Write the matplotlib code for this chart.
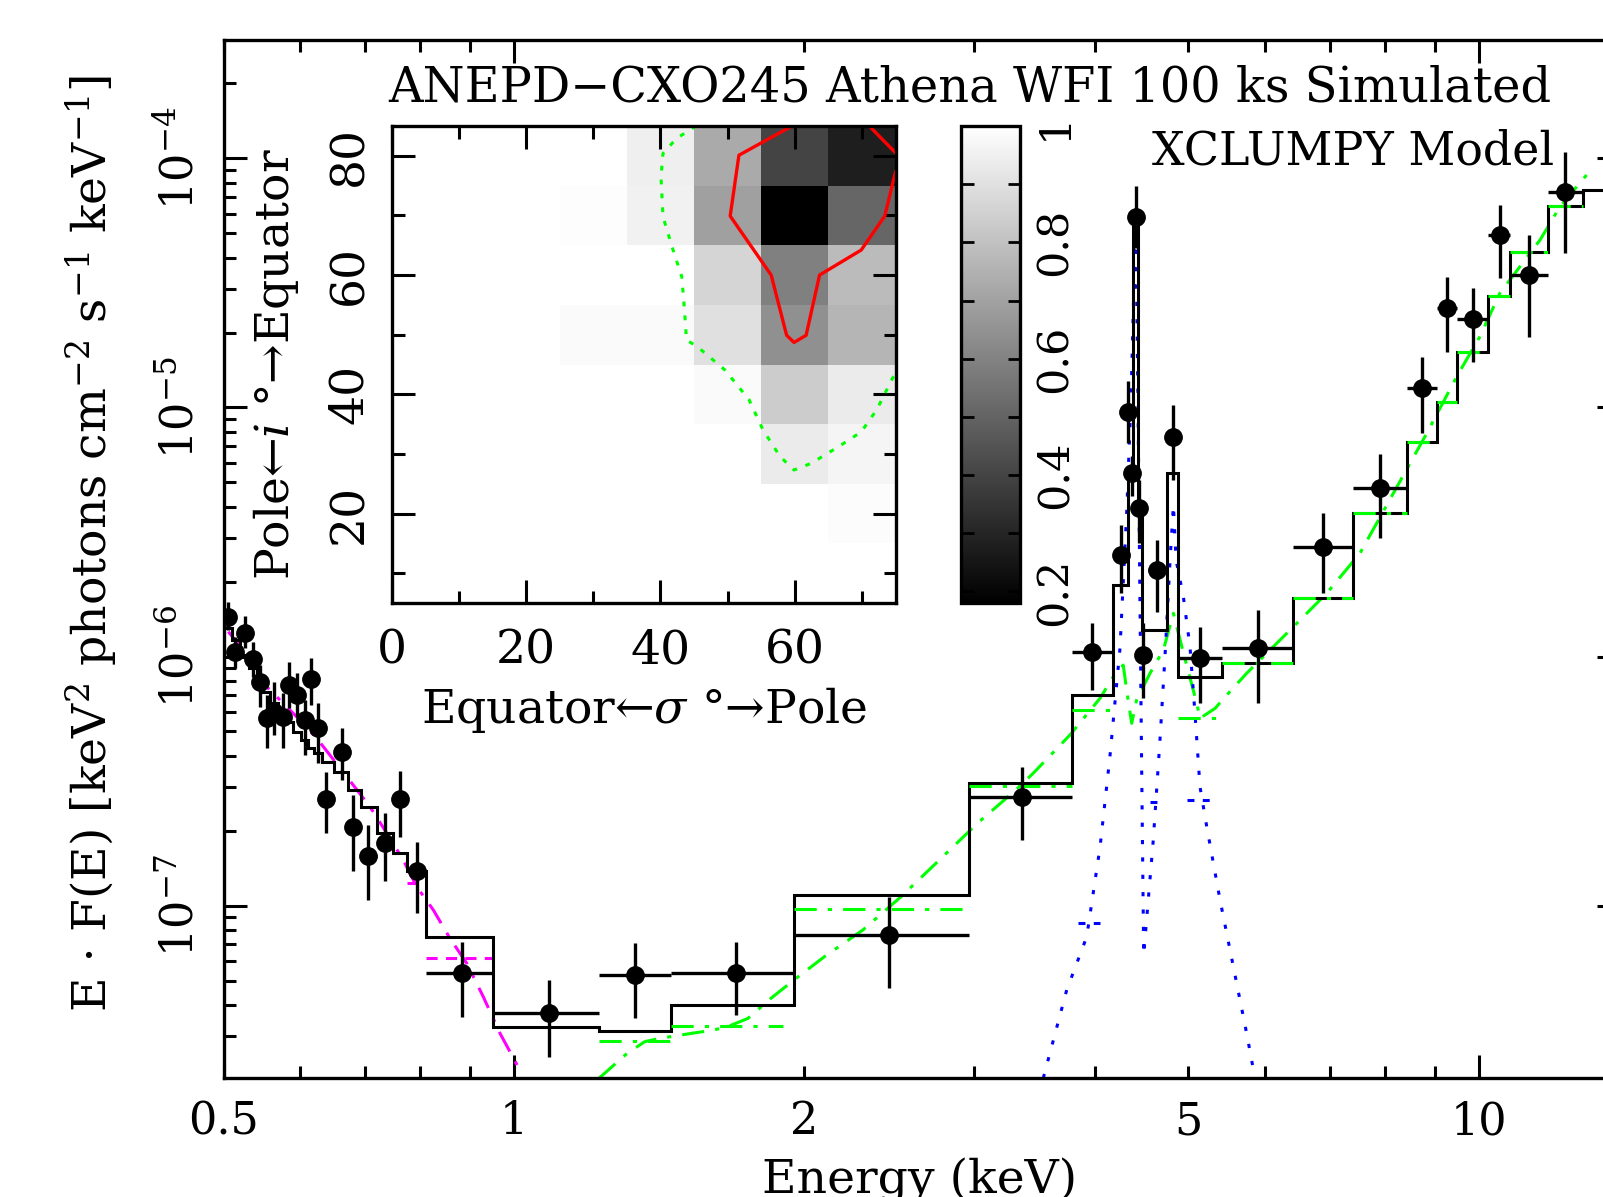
import numpy as np
import matplotlib
matplotlib.use("Agg")
import matplotlib.pyplot as plt
from matplotlib.ticker import FixedLocator, FuncFormatter, NullFormatter, LogLocator, MultipleLocator

# ---------------- spectrum data (keV, keV^2 photons cm^-2 s^-1 keV^-1) ----------------
energy = np.array([0.5058, 0.5140, 0.5264, 0.5369, 0.5455, 0.5543, 0.5641, 0.5758, 0.5850, 0.5962,
                   0.6072, 0.6155, 0.6267, 0.6384, 0.6630, 0.6815, 0.7066, 0.7354, 0.7618, 0.7929,
                   0.8828, 1.087, 1.335, 1.700, 2.449, 3.357, 3.974, 4.253, 4.323, 4.366,
                   4.408, 4.443, 4.488, 4.641, 4.823, 5.139, 5.906, 6.897, 7.897, 8.724,
                   9.260, 9.851, 10.51, 11.27, 12.28])
e_lo = np.array([0.500, 0.5098, 0.5202, 0.5315, 0.5410, 0.5497, 0.5590, 0.5698, 0.5804, 0.5906,
                 0.6014, 0.6115, 0.6210, 0.6327, 0.6505, 0.6723, 0.6938, 0.7206, 0.7484, 0.7747,
                 0.810, 0.952, 1.224, 1.456, 1.950, 2.962, 3.790, 4.178, 4.297, 4.346,
                 4.387, 4.429, 4.464, 4.542, 4.747, 4.881, 5.413, 6.409, 7.408, 8.418,
                 9.042, 9.481, 10.22, 10.77, 11.80])
e_hi = np.array([0.5098, 0.5202, 0.5315, 0.5410, 0.5497, 0.5590, 0.5698, 0.5804, 0.5906, 0.6014,
                 0.6115, 0.6210, 0.6327, 0.6505, 0.6723, 0.6938, 0.7206, 0.7484, 0.7747, 0.810,
                 0.952, 1.224, 1.456, 1.950, 2.962, 3.790, 4.178, 4.331, 4.348, 4.387,
                 4.429, 4.464, 4.517, 4.747, 4.881, 5.413, 6.409, 7.408, 8.418, 9.042,
                 9.481, 10.22, 10.77, 11.80, 12.83])
flux = np.array([1.445e-6, 1.045e-6, 1.246e-6, 9.74e-7, 7.92e-7, 5.65e-7, 6.00e-7, 5.73e-7, 7.68e-7, 7.00e-7,
                 5.56e-7, 8.10e-7, 5.15e-7, 2.69e-7, 4.15e-7, 2.07e-7, 1.58e-7, 1.78e-7, 2.69e-7, 1.37e-7,
                 5.34e-8, 3.71e-8, 5.26e-8, 5.37e-8, 7.61e-8, 2.72e-7, 1.045e-6, 2.556e-6, 9.62e-6, 5.44e-6,
                 5.82e-5, 3.94e-6, 1.014e-6, 2.225e-6, 7.63e-6, 9.83e-7, 1.079e-6, 2.761e-6, 4.74e-6, 1.194e-5,
                 2.503e-5, 2.260e-5, 4.93e-5, 3.404e-5, 7.36e-5])
f_lo = np.array([1.278e-6, 8.97e-7, 1.079e-6, 8.29e-7, 6.29e-7, 4.28e-7, 4.84e-7, 4.28e-7, 6.19e-7, 5.73e-7,
                 4.02e-7, 6.39e-7, 3.75e-7, 1.95e-7, 3.19e-7, 1.37e-7, 1.05e-7, 1.25e-7, 1.89e-7, 9.30e-8,
                 3.58e-8, 2.47e-8, 3.52e-8, 3.63e-8, 4.65e-8, 1.83e-7, 7.34e-7, 1.794e-6, 7.22e-6, 4.41e-6,
                 4.37e-5, 2.856e-6, 6.80e-7, 1.513e-6, 5.11e-6, 6.49e-7, 6.49e-7, 1.794e-6, 2.983e-6, 7.88e-6,
                 1.675e-5, 1.527e-5, 3.303e-5, 1.924e-5, 4.16e-5])
f_hi = np.array([1.660e-6, 1.201e-6, 1.454e-6, 1.147e-6, 9.24e-7, 7.00e-7, 7.92e-7, 7.11e-7, 9.53e-7, 8.56e-7,
                 6.69e-7, 9.83e-7, 6.49e-7, 3.45e-7, 5.15e-7, 2.78e-7, 2.11e-7, 2.35e-7, 3.48e-7, 1.80e-7,
                 7.16e-8, 5.02e-8, 7.05e-8, 7.16e-8, 1.085e-7, 3.61e-7, 1.359e-6, 3.375e-6, 1.272e-5, 6.38e-6,
                 7.72e-5, 5.11e-6, 1.359e-6, 2.937e-6, 1.023e-5, 1.317e-6, 1.537e-6, 3.759e-6, 6.51e-6, 1.600e-5,
                 3.352e-5, 3.011e-5, 6.51e-5, 4.93e-5, 1.065e-4])

# total model (folded, stepped)
model_edges = [0.500, 0.5098, 0.5202, 0.5315, 0.5410, 0.5497, 0.5590, 0.5698, 0.5804, 0.5906,
               0.6014, 0.6115, 0.6210, 0.6327, 0.6505, 0.6723, 0.6938, 0.7206, 0.7484, 0.7747,
               0.810, 0.952, 1.224, 1.456, 1.950, 2.962, 3.790, 4.178, 4.331, 4.383,
               4.436, 4.472, 4.747, 4.881, 5.413, 6.409, 7.408, 8.418, 9.042, 9.481,
               10.22, 10.77, 11.80, 12.83, 14.0]
model_flux = [1.302e-6, 1.165e-6, 1.014e-6, 8.99e-7, 8.04e-7, 7.20e-7, 6.51e-7, 5.93e-7, 5.46e-7, 4.97e-7,
              4.62e-7, 4.29e-7, 4.10e-7, 3.77e-7, 3.44e-7, 2.91e-7, 2.49e-7, 1.95e-7, 1.62e-7, 1.37e-7,
              7.49e-8, 3.26e-8, 3.13e-8, 3.99e-8, 1.102e-7, 3.11e-7, 7.00e-7, 1.937e-6, 5.46e-6, 5.82e-5,
              4.06e-6, 1.278e-6, 5.44e-6, 8.29e-7, 9.39e-7, 1.713e-6, 3.759e-6, 7.29e-6, 1.055e-5, 1.675e-5,
              2.804e-5, 4.22e-5, 6.45e-5, 7.47e-5]

# transmitted / reflected continuum (green)
green_e = [1.224, 1.310, 1.366, 1.416, 1.538, 1.609, 1.670, 1.747, 1.846, 1.950,
           2.097, 2.298, 2.518, 2.759, 3.022, 3.311, 3.452, 3.768, 4.049, 4.178,
           4.279, 4.314, 4.366, 4.418, 4.561, 4.709, 4.823, 4.921, 5.099, 5.139,
           5.327, 5.478, 5.744, 6.122, 6.422, 6.953, 7.527, 8.151, 8.829, 9.481,
           10.02, 10.51, 11.57, 12.13, 12.93]
green_f = [2.02e-8, 2.55e-8, 2.84e-8, 2.93e-8, 3.08e-8, 3.16e-8, 3.28e-8, 3.52e-8, 4.24e-8, 5.02e-8,
           6.23e-8, 7.97e-8, 1.085e-7, 1.523e-7, 2.14e-7, 2.91e-7, 3.40e-7, 4.84e-7, 6.80e-7, 8.29e-7,
           9.24e-7, 7.34e-7, 5.39e-7, 6.69e-7, 8.56e-7, 1.062e-6, 1.491e-6, 1.095e-6, 6.49e-7, 5.65e-7,
           6.19e-7, 7.00e-7, 8.56e-7, 1.095e-6, 1.317e-6, 1.794e-6, 2.597e-6, 4.52e-6, 7.88e-6, 1.329e-5,
           1.924e-5, 2.875e-5, 4.71e-5, 6.40e-5, 8.59e-5]
green_step_lo = [1.224, 1.456, 1.950, 2.962, 3.790, 4.881, 5.413, 6.409, 7.408, 8.418, 9.042, 9.481, 10.22, 10.77, 11.80]
green_step_hi = [1.456, 1.900, 2.962, 3.790, 4.178, 5.349, 6.409, 7.408, 8.418, 9.042, 9.481, 10.22, 10.77, 11.80, 12.83]
green_step_f = [2.855e-8, 3.28e-8, 9.65e-8, 3.02e-7, 6.10e-7, 5.65e-7, 9.39e-7, 1.713e-6, 3.759e-6, 7.29e-6,
                1.055e-5, 1.675e-5, 2.804e-5, 4.22e-5, 6.45e-5]

# scattered component (magenta)
magenta_e = [0.5058, 0.5327, 0.5543, 0.6000, 0.6267, 0.6710, 0.7094, 0.7383, 0.7678, 0.7929,
             0.8250, 0.8584, 0.8934, 0.9294, 0.9671, 1.0144]
magenta_f = [1.258e-6, 9.83e-7, 7.56e-7, 5.56e-7, 4.62e-7, 3.29e-7, 2.49e-7, 1.95e-7, 1.523e-7, 1.190e-7,
             9.59e-8, 7.38e-8, 5.86e-8, 4.30e-8, 3.07e-8, 2.18e-8]
magenta_step_lo = [0.7747, 0.810]
magenta_step_hi = [0.810, 0.952]
magenta_step_f = [1.228e-7, 6.17e-8]

# fluorescence lines (blue)
blue_e = [3.536, 3.739, 3.922, 4.049, 4.145, 4.246, 4.314, 4.359, 4.408, 4.432,
          4.453, 4.472, 4.493, 4.542, 4.597, 4.671, 4.727, 4.785, 4.823, 4.854,
          4.939, 5.018, 5.078, 5.139, 5.223, 5.391, 5.565, 5.744, 5.859]
blue_f = [2.03e-8, 4.58e-8, 7.49e-8, 1.722e-7, 3.96e-7, 1.079e-6, 3.76e-6, 1.072e-5, 5.82e-5, 1.072e-5,
          1.686e-6, 3.40e-7, 6.33e-8, 1.052e-7, 1.832e-7, 4.62e-7, 9.98e-7, 2.441e-6, 4.06e-6, 2.441e-6,
          1.739e-6, 1.095e-6, 5.91e-7, 3.00e-7, 2.07e-7, 1.052e-7, 5.68e-8, 3.07e-8, 2.03e-8]
blue_step_lo = [3.842, 4.561, 4.979]
blue_step_hi = [4.049, 4.634, 5.264]
blue_step_f = [8.53e-8, 2.61e-7, 2.65e-7]

# ---------------- inset: probability map over (sigma, inclination) ----------------
sigma_deg = [0, 10, 20, 30, 40, 50, 60, 70]
incl_deg = [10, 20, 30, 40, 50, 60, 70, 80]
prob_map = np.array([
    [1.00, 1.00, 1.00, 1.000, 1.000, 1.000, 1.000, 1.000],  # i = 10
    [1.00, 1.00, 1.00, 1.000, 1.000, 1.000, 1.000, 0.990],  # i = 20
    [1.00, 1.00, 1.00, 1.000, 1.000, 1.000, 0.933, 0.965],  # i = 30
    [1.00, 1.00, 1.00, 1.000, 1.000, 0.981, 0.836, 0.933],  # i = 40
    [1.00, 1.00, 1.00, 0.981, 0.981, 0.900, 0.643, 0.762],  # i = 50
    [1.00, 1.00, 1.00, 1.000, 0.997, 0.865, 0.592, 0.781],  # i = 60
    [1.00, 1.00, 1.00, 0.993, 0.952, 0.694, 0.180, 0.508],  # i = 70
    [1.00, 1.00, 1.00, 1.000, 0.948, 0.727, 0.399, 0.277],  # i = 80
])
red_sig = [59.6, 51.7, 50.4, 56.5, 58.8, 59.9, 61.7, 63.7, 69.9, 73.4, 75.0]
red_inc = [85.0, 80.1, 69.9, 60.0, 49.9, 48.7, 49.9, 60.0, 64.2, 69.9, 77.3]
red2_sig = [71.1, 75.0]
red2_inc = [85.0, 80.5]
grn_sig = [45.3, 42.4, 40.4, 40.1, 40.4, 41.9, 43.2, 43.6, 43.9, 45.5, 49.6, 53.2, 55.3, 57.8,
           59.9, 62.4, 66.5, 69.9, 72.2, 74.7, 75.0]
grn_inc = [85.0, 82.9, 80.4, 76.5, 69.8, 64.2, 59.7, 54.1, 49.1, 48.0, 44.1, 39.1, 34.0, 29.6,
           27.3, 28.4, 31.2, 33.7, 37.4, 43.0, 43.5]

# ---------------- style ----------------
plt.rcParams["font.family"] = ["DejaVu Serif"]
plt.rcParams["mathtext.fontset"] = "dejavuserif"
plt.rcParams["lines.scale_dashes"] = False

GREEN = "#00ff00"
MAGENTA = "#ff00ff"
BLUE = "#0000ff"
DASHDOT = (0, (16, 8, 3, 8))
DOTTED = (0, (3, 9.5))
LW = 2.2

W, H = 1603, 1197
fig = plt.figure(figsize=(W / 100, H / 100), dpi=100)

# ---------------- main spectrum ----------------
ax = fig.add_axes([223.5 / W, 1 - 1078 / H, (1620 - 223.5) / W, 1038 / H])
ax.set_xscale("log")
ax.set_yscale("log")

ax.stairs(model_flux, model_edges, baseline=None, color="black", lw=LW, zorder=3)

ax.plot(green_e, green_f, color=GREEN, lw=LW, ls=DASHDOT, zorder=2)
ax.hlines(green_step_f, green_step_lo, green_step_hi, color=GREEN, lw=LW, linestyles=[DASHDOT], zorder=4)
ax.plot(magenta_e, magenta_f, color=MAGENTA, lw=LW, ls=DASHDOT, zorder=2)
ax.hlines(magenta_step_f, magenta_step_lo, magenta_step_hi, color=MAGENTA, lw=LW, linestyles=[(0, (8, 6))], zorder=2)
ax.plot(blue_e, blue_f, color=BLUE, lw=LW, ls=DOTTED, zorder=2)
ax.hlines(blue_step_f, blue_step_lo, blue_step_hi, color=BLUE, lw=LW, linestyles=[(0, (5, 6))], zorder=2)

ax.errorbar(energy, flux,
            xerr=[energy - e_lo, e_hi - energy],
            yerr=[flux - f_lo, f_hi - flux],
            fmt="o", color="black", ms=12.5, elinewidth=2.4, capsize=0, zorder=5)

ax.set_xlim(0.5, 14.0)
ax.set_ylim(2.03e-8, 2.99e-4)

ax.xaxis.set_major_locator(FixedLocator([1, 10]))
ax.xaxis.set_minor_locator(FixedLocator([0.5, 0.6, 0.7, 0.8, 0.9, 2, 3, 4, 5, 6, 7, 8, 9]))
ax.xaxis.set_major_formatter(FuncFormatter(lambda v, p: "%g" % v))
ax.xaxis.set_minor_formatter(FuncFormatter(lambda v, p: "%g" % v if v in (0.5, 2, 5) else ""))
ax.yaxis.set_major_locator(LogLocator(base=10, numticks=20))
ax.yaxis.set_minor_locator(LogLocator(base=10, subs=np.arange(2, 10), numticks=20))
ax.yaxis.set_major_formatter(FuncFormatter(lambda v, p: r"$10^{%d}$" % round(np.log10(v))))
ax.yaxis.set_minor_formatter(NullFormatter())

ax.tick_params(which="both", direction="in", top=True, right=True, width=2.2, labelsize=32)
ax.tick_params(which="major", length=16.5)
ax.tick_params(which="minor", length=8.5)
ax.tick_params(axis="x", which="both", pad=16)
ax.tick_params(axis="y", which="both", pad=15, labelrotation=90)
plt.setp(ax.get_yticklabels(), va="center")
for s in ax.spines.values():
    s.set_linewidth(2.4)

fig.text(92 / W, 1 - 544 / H,
         r"E $\cdot$ F(E) [keV$^2$ photons cm$^{-2}$ s$^{-1}$ keV$^{-1}$]",
         rotation=90, ha="center", va="center", fontsize=34)
fig.text(920 / W, 1 - 1158 / H, "Energy (keV)", ha="center", va="top", fontsize=34)
fig.text(388 / W, 1 - 88 / H, "ANEPD\u2212CXO245 Athena WFI 100 ks Simulated",
         ha="left", va="center", fontsize=34.5)
fig.text(1554 / W, 1 - 152 / H, "XCLUMPY Model", ha="right", va="center", fontsize=33)

# ---------------- inset ----------------
inset = fig.add_axes([391.5 / W, 1 - 603 / H, 504 / W, 477 / H])
sig_edges = [s - 5 for s in sigma_deg] + [sigma_deg[-1] + 5]
inc_edges = [i - 5 for i in incl_deg] + [incl_deg[-1] + 5]
mesh = inset.pcolormesh(sig_edges, inc_edges, prob_map, cmap="gray", vmin=0.18, vmax=1.0, shading="flat")
inset.plot(red_sig, red_inc, color="#ff0000", lw=2.4)
inset.plot(red2_sig, red2_inc, color="#ff0000", lw=2.4)
inset.plot(grn_sig, grn_inc, color=GREEN, lw=2.2, ls=(0, (3.5, 6.5)))
inset.set_xlim(0, 75)
inset.set_ylim(5, 85)
inset.xaxis.set_major_locator(MultipleLocator(20))
inset.xaxis.set_minor_locator(MultipleLocator(10))
inset.yaxis.set_major_locator(FixedLocator([20, 40, 60, 80]))
inset.yaxis.set_minor_locator(FixedLocator([10, 30, 50, 70]))
inset.tick_params(which="both", direction="in", top=True, right=True, width=2.2, labelsize=34)
inset.tick_params(which="major", length=16.5)
inset.tick_params(which="minor", length=9)
inset.tick_params(axis="x", which="both", pad=18)
inset.tick_params(axis="y", which="both", pad=14, labelrotation=90)
plt.setp(inset.get_yticklabels(), va="center")
for s in inset.spines.values():
    s.set_linewidth(2.4)

fig.text(644 / W, 1 - 710 / H, "Equator\u2190$\\sigma$ \u00b0\u2192Pole",
         ha="center", va="center", fontsize=34)
fig.text(276 / W, 1 - 364 / H, "Pole\u2190$i$ \u00b0\u2192Equator",
         rotation=90, ha="center", va="center", fontsize=34)

# ---------------- colour bar ----------------
cax = fig.add_axes([961 / W, 1 - 603 / H, 59 / W, 477 / H])
cb = fig.colorbar(mesh, cax=cax)
cb.outline.set_linewidth(2.4)
cb.set_ticks([0.2, 0.4, 0.6, 0.8, 1.0])
cb.set_ticklabels(["0.2", "0.4", "0.6", "0.8", "1"])
cax.yaxis.set_minor_locator(FixedLocator([0.3, 0.5, 0.7, 0.9]))
cax.tick_params(which="both", direction="in", left=True, right=True, labelleft=False, labelright=True,
                width=2.0, length=9, labelsize=31, labelrotation=90, pad=10)
plt.setp(cax.get_yticklabels(), va="center")

fig.savefig("out.png", dpi=100)
